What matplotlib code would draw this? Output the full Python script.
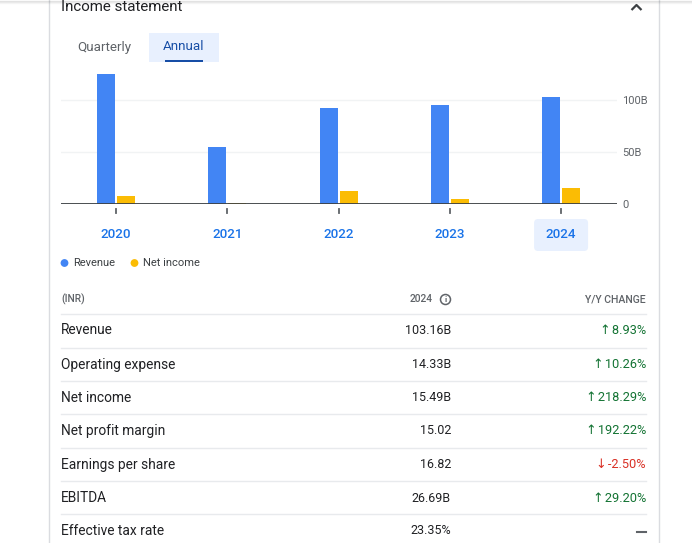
import matplotlib
matplotlib.use("Agg")
import matplotlib.pyplot as plt
import matplotlib.transforms as mtransforms
from matplotlib.patches import FancyBboxPatch, Rectangle, Circle

plt.rcParams['font.family'] = ['Roboto', 'DejaVu Sans']

# ---- data ----
years = ['2020', '2021', '2022', '2023', '2024']
revenue = [124.7, 54.5, 92.6, 95.2, 103.16]
net_income = [7.7, 1.2, 12.5, 5.1, 15.49]
y_ticks = [0, 50, 100]
y_tick_labels = ['0', '50B', '100B']

metrics = ['Revenue', 'Operating expense', 'Net income', 'Net profit margin',
           'Earnings per share', 'EBITDA', 'Effective tax rate']
values_2024 = ['103.16B', '14.33B', '15.49B', '15.02', '16.82', '26.69B', '23.35%']
yy_change = ['8.93%', '10.26%', '218.29%', '192.22%', '-2.50%', '29.20%', None]
yy_direction = ['up', 'up', 'up', 'up', 'down', 'up', None]

REV_C = '#4285f4'
NI_C = '#fbbc04'
W, H = 692, 543

fig = plt.figure(figsize=(W / 100, H / 100), dpi=100)
fig.patch.set_facecolor('white')

# background axes in pixel coordinates
bg = fig.add_axes([0, 0, 1, 1])
bg.set_xlim(0, W)
bg.set_ylim(H, 0)
bg.axis('off')

# borders + top shadow
bg.plot([49, 49], [0, H], color='#dadce0', lw=1)
bg.plot([659, 659], [0, H], color='#dadce0', lw=1)
for i, a in enumerate([0.10, 0.06, 0.03]):
    bg.plot([0, W], [i + 0.5, i + 0.5], color='black', alpha=a, lw=1)

# title
bg.text(61, 7, 'Income statement', fontsize=10.9, color='#202124', va='center', ha='left')
bg.plot([631.5, 636.5, 641.5], [10, 5, 10], color='#3c4043', lw=1.6, solid_capstyle='butt')

# tabs
bg.text(104.5, 47, 'Quarterly', fontsize=9.6, color='#5f6368', va='center', ha='center')
bg.add_patch(Rectangle((149, 33), 70, 29, facecolor='#e8f0fe', edgecolor='none'))
bg.text(184, 46.5, 'Annual', fontsize=9.6, color='#174ea6', va='center', ha='center')
bg.add_patch(Rectangle((165, 59.5), 38, 2.5, facecolor='#174ea6', edgecolor='none'))

# chart axes
left_px, right_px = 60.5, 616.7
base_px = 204
px_per_unit = 52 / 50
ymax = 130
top_px = base_px - ymax * px_per_unit
ax = fig.add_axes([left_px / W, (H - base_px) / H, (right_px - left_px) / W,
                   (base_px - top_px) / H])
ax.set_xlim(-0.5, len(years) - 0.5)
ax.set_ylim(0, ymax)
ax.patch.set_alpha(0)
for s in ax.spines.values():
    s.set_visible(False)

xs = list(range(len(years)))
bw = 0.162
off = 0.09
for yv in y_ticks[1:]:
    ax.axhline(yv, color='#f1f3f4', lw=1, zorder=0)
ax.bar([x - off for x in xs], revenue, width=bw, color=REV_C, zorder=2)
ax.bar([x + off for x in xs], net_income, width=bw, color=NI_C, zorder=2)
ax.axhline(0, color='#3c4043', lw=1.3, zorder=3)

ax.set_xticks([])
ax.yaxis.tick_right()
ax.set_yticks(y_ticks)
ax.set_yticklabels(y_tick_labels)
ax.tick_params(axis='y', length=0, pad=4, labelsize=8, labelcolor='#5f6368')

# small tick marks below axis and year labels
blend = mtransforms.blended_transform_factory(ax.transData, bg.transData)
for x, yr in zip(xs, years):
    ax.plot([x, x], [209, 213], color='#5f6368', lw=1.3, transform=blend, clip_on=False)
    if yr == years[-1]:
        xc = ax.transData.transform((x, 0))[0]
        bg.add_patch(FancyBboxPatch((xc - 25, 221), 50, 28,
                                    boxstyle='round,pad=2,rounding_size=4',
                                    facecolor='#e8f0fe', edgecolor='none'))
    ax.text(x, 234.5, yr, transform=blend, ha='center', va='center',
            fontsize=9.6, color='#1a73e8', fontweight='medium')

# legend
bg.add_patch(Circle((64.5, 263), 3.2, color=REV_C))
bg.text(73, 263, 'Revenue', fontsize=8, color='#3c4043', va='center', ha='left')
bg.add_patch(Circle((134.5, 263), 3.2, color=NI_C))
bg.text(143, 263, 'Net income', fontsize=8, color='#3c4043', va='center', ha='left')

# table
hdr_y = 299.5
bg.text(61, hdr_y, '(INR)', fontsize=7.4, color='#5f6368', va='center', ha='left',
        fontweight='medium')
bg.text(433, hdr_y, '2024', fontsize=7.4, color='#5f6368', va='center', ha='right',
        fontweight='medium')
bg.add_patch(Circle((445.5, hdr_y), 5, facecolor='none', edgecolor='#5f6368', lw=1.1))
bg.text(445.5, hdr_y + 0.3, 'i', fontsize=6, color='#5f6368', va='center', ha='center',
        fontweight='bold')
bg.text(646, hdr_y, 'Y/Y CHANGE', fontsize=7.6, color='#5f6368', va='center', ha='right',
        fontweight='medium')

line_ys = [314, 348, 381, 414.3, 448.3, 481, 514]
row_ys = [330.5, 364.5, 397.5, 431, 464.5, 498, 531]
for ly in line_ys:
    bg.plot([61, 646], [ly, ly], color='#e8eaed', lw=1)
for ry, m, v, c, d in zip(row_ys, metrics, values_2024, yy_change, yy_direction):
    bg.text(61, ry, m, fontsize=9.9, color='#202124', va='center', ha='left')
    bg.text(451, ry, v, fontsize=9.0, color='#202124', va='center', ha='right')
    if c is None:
        bg.plot([637, 646], [ry + 1, ry + 1], color='#5f6368', lw=1.5)
    else:
        col = '#137333' if d == 'up' else '#d93025'
        arrow = '↑' if d == 'up' else '↓'
        bg.text(646, ry, arrow + '\u200a' + c, fontsize=9.2, color=col, va='center',
                ha='right')

fig.savefig('out.png', dpi=100, facecolor='white')
